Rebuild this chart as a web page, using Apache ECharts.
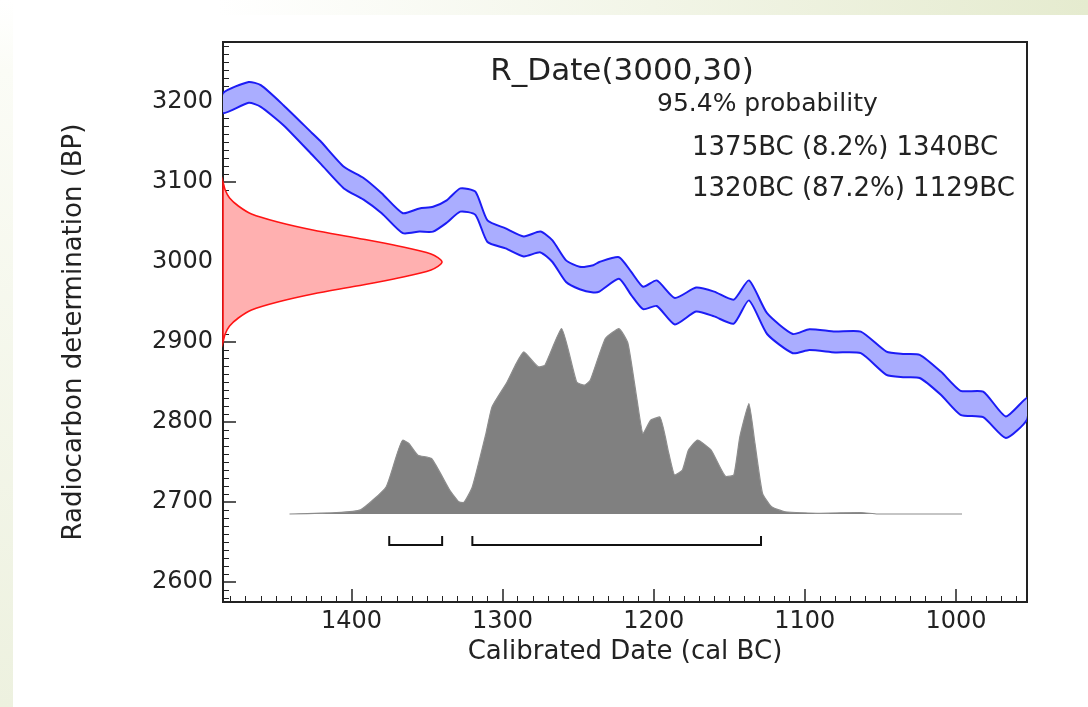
<!DOCTYPE html>
<html>
<head>
<meta charset="utf-8">
<script src="https://cdn.jsdelivr.net/npm/echarts@6/dist/echarts.min.js"></script>
<style>
html,body{margin:0;padding:0;background:#ffffff;}
#c{width:1088px;height:707px;}
</style>
</head>
<body>
<div id="c"></div>
<script>
// ---------------- data ----------------
const xTickLabels = [1400, 1300, 1200, 1100, 1000];
const yTickLabels = [2600, 2700, 2800, 2900, 3000, 3100, 3200];

// calibration curve band (cal BC, upper / lower edge in BP)
const calYears = [1485,1468,1460,1445,1426,1420,1405,1392,1380,1366,1355,1346,1337,1328,1318,1310,1298,1286,1275,1267,1258,1249,1240,1236,1223,1215,1207,1198,1186,1172,1160,1147,1137,1125,1108,1097,1080,1063,1046,1035,1024,1010,997,982,967,953];
const calUpper = [3211,3225,3221,3196,3161,3150,3119,3105,3086,3061,3067,3069,3077,3092,3088,3052,3042,3032,3038,3027,3002,2994,2996,3000,3006,2988,2969,2977,2955,2968,2963,2953,2977,2936,2910,2916,2913,2913,2888,2885,2884,2863,2839,2838,2807,2830];
const calLower = [3186,3199,3194,3171,3134,3122,3092,3078,3061,3036,3038,3038,3049,3063,3059,3025,3017,3007,3012,3000,2975,2966,2962,2963,2979,2959,2941,2945,2922,2938,2932,2923,2952,2910,2886,2890,2887,2886,2859,2856,2855,2834,2809,2806,2780,2803];

// radiocarbon measurement R_Date(3000,30): BP and relative probability
const rDateBP   = [2900,2910,2920,2930,2940,2950,2960,2970,2980,2990,3000,3010,3020,3030,3040,3050,3060,3070,3080,3090,3100];
const rDateProb = [0,0.01,0.03,0.07,0.13,0.25,0.41,0.61,0.80,0.95,1.00,0.95,0.80,0.61,0.41,0.25,0.13,0.07,0.03,0.01,0];

// calibrated distribution (cal BC, relative probability)
const probYears  = [1441,1410,1394,1377,1366,1362,1356,1347,1335,1329,1326,1320,1311,1307,1297,1291,1286,1276,1272,1261,1251,1246,1242,1232,1223,1217,1211,1207,1202,1196,1190,1186,1181,1177,1171,1162,1152,1147,1143,1137,1133,1128,1122,1113,1090,1063,1052,996];
const probValues = [0,0.007,0.022,0.147,0.398,0.38,0.317,0.299,0.129,0.066,0.061,0.147,0.434,0.577,0.711,0.81,0.873,0.792,0.801,0.998,0.711,0.694,0.72,0.945,0.998,0.918,0.613,0.434,0.505,0.523,0.326,0.21,0.237,0.344,0.398,0.344,0.201,0.21,0.416,0.595,0.38,0.111,0.039,0.012,0.004,0.008,0,0];

// 95.4% ranges
const rangeStart = [1375, 1320];
const rangeEnd   = [1340, 1129];
const rangePct   = [8.2, 87.2];

const titleText = 'R_Date(3000,30)';
const probText  = '95.4% probability';
const xName = 'Calibrated Date (cal BC)';
const yName = 'Radiocarbon determination (BP)';

// ---------------- layout / style ----------------
const FONT = '"DejaVu Sans", sans-serif';
const INK = '#222222';
const BRACKET_LEVEL = -0.167;
const BRACKET_TICK = 9;

const chart = echarts.init(document.getElementById('c'), null, {renderer: 'canvas'});

function bandItem(params, api) {
  if (params.dataIndex !== 0) return null;
  const pts = [];
  for (let i = 0; i < calYears.length; i++) pts.push(api.coord([calYears[i], calUpper[i]]));
  for (let i = calYears.length - 1; i >= 0; i--) pts.push(api.coord([calYears[i], calLower[i]]));
  return {type: 'polygon', shape: {points: pts, smooth: 0.2},
          style: {fill: '#aaadff', stroke: '#1c1cf5', lineWidth: 2}};
}
function rDateItem(params, api) {
  if (params.dataIndex !== 0) return null;
  const pts = [api.coord([0, rDateBP[0]])];
  for (let i = 0; i < rDateBP.length; i++) pts.push(api.coord([rDateProb[i], rDateBP[i]]));
  pts.push(api.coord([0, rDateBP[rDateBP.length - 1]]));
  return {type: 'polygon', shape: {points: pts, smooth: 0.3},
          style: {fill: '#ffb0b0', stroke: '#ff1414', lineWidth: 1.6}};
}
function bracketItem(params, api) {
  const a = api.coord([api.value(0), BRACKET_LEVEL]);
  const b = api.coord([api.value(1), BRACKET_LEVEL]);
  return {type: 'polyline',
          shape: {points: [[a[0], a[1] - BRACKET_TICK], [a[0], a[1]], [b[0], b[1]], [b[0], b[1] - BRACKET_TICK]]},
          style: {stroke: '#111111', lineWidth: 2, fill: null}};
}

const tickStyle = {
  axisLine: {show: true, onZero: false, lineStyle: {color: INK, width: 2}},
  axisTick: {show: true, inside: true, length: 13, lineStyle: {color: INK, width: 1.5}},
  minorTick: {show: true, splitNumber: 10, length: 6, lineStyle: {color: INK, width: 1}},
  splitLine: {show: false},
  minorSplitLine: {show: false}
};

const option = {
  backgroundColor: '#ffffff',
  animation: false,
  grid: {left: 223, right: 61, top: 42, bottom: 105, show: true,
         borderColor: INK, borderWidth: 2, backgroundColor: 'transparent'},
  xAxis: [
    Object.assign({
      type: 'value', min: 953, max: 1485, inverse: true, splitNumber: 5, position: 'bottom',
      name: xName, nameLocation: 'middle', nameGap: 30,
      nameTextStyle: {fontFamily: FONT, fontSize: 26, color: INK},
      axisLabel: {fontFamily: FONT, fontSize: 24, color: INK, margin: 8,
                  formatter: v => xTickLabels.indexOf(v) >= 0 ? String(v) : ''}
    }, tickStyle),
    {type: 'value', min: 0, max: 3.671, show: false}
  ],
  yAxis: [
    Object.assign({
      type: 'value', min: 2575, max: 3275, splitNumber: 7, position: 'left',
      name: yName, nameLocation: 'middle', nameGap: 136,
      nameTextStyle: {fontFamily: FONT, fontSize: 26, color: INK, padding: [0, 20, 0, 0]},
      axisLabel: {fontFamily: FONT, fontSize: 24, color: INK, margin: 10,
                  formatter: v => yTickLabels.indexOf(v) >= 0 ? String(v) : ''}
    }, tickStyle),
    {type: 'value', min: -0.474, max: 2.542, show: false}
  ],
  graphic: [
    {type: 'rect', z: -10, shape: {x: 0, y: 0, width: 1088, height: 15},
     style: {fill: new echarts.graphic.LinearGradient(0, 0, 1, 0, [
       {offset: 0, color: '#ffffff'}, {offset: 0.2, color: '#ffffff'}, {offset: 1, color: '#e5ebcf'}])}},
    {type: 'rect', z: -10, shape: {x: 0, y: 0, width: 13, height: 707},
     style: {fill: new echarts.graphic.LinearGradient(0, 0, 0, 1, [
       {offset: 0, color: '#ffffff'}, {offset: 0.1, color: '#fbfcf6'}, {offset: 1, color: '#edf1df'}])}},
    {type: 'text', x: 622, y: 72,
     style: {text: titleText, font: '31px ' + FONT, fill: INK, align: 'center', verticalAlign: 'middle'}},
    {type: 'text', x: 657, y: 104,
     style: {text: probText, font: '25px ' + FONT, fill: INK, align: 'left', verticalAlign: 'middle'}},
    {type: 'text', x: 692, y: 148,
     style: {text: rangeStart[0] + 'BC (' + rangePct[0] + '%) ' + rangeEnd[0] + 'BC',
             font: '26px ' + FONT, fill: INK, align: 'left', verticalAlign: 'middle'}},
    {type: 'text', x: 692, y: 189,
     style: {text: rangeStart[1] + 'BC (' + rangePct[1] + '%) ' + rangeEnd[1] + 'BC',
             font: '26px ' + FONT, fill: INK, align: 'left', verticalAlign: 'middle'}}
  ],
  series: [
    {
      name: 'calibrated', type: 'line', xAxisIndex: 0, yAxisIndex: 1,
      data: probYears.map((y, i) => [y, probValues[i]]),
      showSymbol: false, smooth: 0.15,
      lineStyle: {color: '#8c8c8c', width: 1.2},
      areaStyle: {color: '#808080', opacity: 1},
      z: 2
    },
    {
      name: 'ranges', type: 'custom', xAxisIndex: 0, yAxisIndex: 1,
      data: rangeStart.map((s, i) => [s, rangeEnd[i]]),
      renderItem: bracketItem, z: 3
    },
    {
      name: 'rdate', type: 'custom', xAxisIndex: 1, yAxisIndex: 0,
      data: [[rDateProb[10], rDateBP[10]]],
      renderItem: rDateItem, z: 3
    },
    {
      name: 'curve', type: 'custom', xAxisIndex: 0, yAxisIndex: 0,
      data: [[calYears[0], calUpper[0]]],
      renderItem: bandItem, clip: true, z: 4
    }
  ]
};
chart.setOption(option);
</script>
</body>
</html>
